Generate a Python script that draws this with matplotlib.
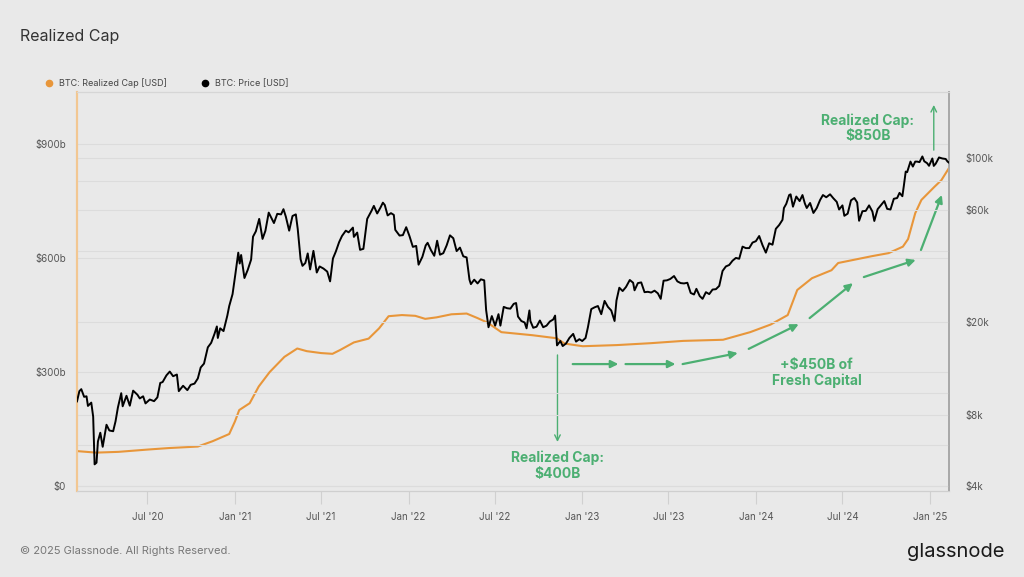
import pandas as pd
import matplotlib
matplotlib.use("Agg")
import matplotlib.pyplot as plt
import matplotlib.dates as mdates
from matplotlib.lines import Line2D

plt.rcParams['font.family'] = ['Inter', 'DejaVu Sans']

# realized cap, billions USD
rc_dates = ['2020-02-04', '2020-03-15', '2020-05-01', '2020-07-01', '2020-08-15', '2020-10-15',
            '2020-11-15', '2020-12-20', '2021-01-01', '2021-01-10', '2021-02-01', '2021-02-20',
            '2021-03-15', '2021-04-15', '2021-05-12', '2021-06-01', '2021-07-01', '2021-07-25',
            '2021-08-10', '2021-09-08', '2021-10-09', '2021-10-31', '2021-11-20', '2021-12-18',
            '2022-01-15', '2022-02-05', '2022-03-01', '2022-04-01', '2022-05-03', '2022-05-26',
            '2022-06-16', '2022-07-15', '2022-09-18', '2022-11-08', '2022-11-25', '2023-01-02',
            '2023-03-15', '2023-05-25', '2023-08-01', '2023-10-24', '2023-12-20', '2024-02-01',
            '2024-03-08', '2024-03-28', '2024-04-28', '2024-06-08', '2024-06-22', '2024-09-01',
            '2024-10-06', '2024-11-05', '2024-11-16', '2024-12-01', '2024-12-14', '2025-01-10',
            '2025-01-25', '2025-02-10']
rc_values = [92, 88, 90, 96, 100, 104,
             118, 137, 170, 200, 218, 262,
             300, 340, 362, 355, 350, 348,
             358, 378, 388, 415, 447, 450,
             448, 440, 444, 452, 454, 442,
             430, 405, 397, 389, 375, 368,
             371, 376, 382, 385, 405, 425,
             450, 516, 547, 568, 587, 605,
             613, 630, 650, 718, 753, 787,
             805, 837]

# BTC price, USD
price_dates = [
    '2020-02-04', '2020-02-09', '2020-02-13', '2020-02-19', '2020-02-24', '2020-02-27', '2020-03-05',
    '2020-03-09', '2020-03-12', '2020-03-16', '2020-03-19', '2020-03-24', '2020-03-29', '2020-04-06',
    '2020-04-12', '2020-04-20', '2020-04-25', '2020-04-30', '2020-05-07', '2020-05-10', '2020-05-18',
    '2020-05-25', '2020-06-01', '2020-06-10', '2020-06-15', '2020-06-22', '2020-06-27', '2020-07-06',
    '2020-07-15', '2020-07-22', '2020-07-28', '2020-08-02', '2020-08-10', '2020-08-17', '2020-08-24',
    '2020-09-01', '2020-09-05', '2020-09-14', '2020-09-23', '2020-09-30', '2020-10-08', '2020-10-15',
    '2020-10-21', '2020-10-28', '2020-11-05', '2020-11-12', '2020-11-19', '2020-11-24', '2020-11-26',
    '2020-12-01', '2020-12-08', '2020-12-16', '2020-12-20', '2020-12-27', '2021-01-02', '2021-01-08',
    '2021-01-11', '2021-01-14', '2021-01-21', '2021-01-28', '2021-02-04', '2021-02-08', '2021-02-14',
    '2021-02-21', '2021-02-28', '2021-03-06', '2021-03-13', '2021-03-24', '2021-03-31', '2021-04-08',
    '2021-04-13', '2021-04-18', '2021-04-25', '2021-05-02', '2021-05-09', '2021-05-13', '2021-05-19',
    '2021-05-23', '2021-05-29', '2021-06-03', '2021-06-08', '2021-06-15', '2021-06-22', '2021-06-28',
    '2021-07-06', '2021-07-14', '2021-07-20', '2021-07-26', '2021-08-01', '2021-08-08', '2021-08-14',
    '2021-08-22', '2021-08-28', '2021-09-06', '2021-09-08', '2021-09-15', '2021-09-21', '2021-09-28',
    '2021-10-06', '2021-10-15', '2021-10-20', '2021-10-27', '2021-11-03', '2021-11-08', '2021-11-12',
    '2021-11-18', '2021-11-25', '2021-12-01', '2021-12-04', '2021-12-13', '2021-12-20', '2021-12-27',
    '2022-01-03', '2022-01-10', '2022-01-17', '2022-01-22', '2022-01-30', '2022-02-06', '2022-02-10',
    '2022-02-17', '2022-02-24', '2022-03-02', '2022-03-08', '2022-03-15', '2022-03-22', '2022-03-29',
    '2022-04-05', '2022-04-12', '2022-04-19', '2022-04-26', '2022-05-03', '2022-05-09', '2022-05-12',
    '2022-05-19', '2022-05-26', '2022-06-02', '2022-06-09', '2022-06-13', '2022-06-18', '2022-06-25',
    '2022-07-02', '2022-07-09', '2022-07-13', '2022-07-20', '2022-07-27', '2022-08-03', '2022-08-10',
    '2022-08-15', '2022-08-19', '2022-08-26', '2022-09-02', '2022-09-06', '2022-09-12', '2022-09-14',
    '2022-09-20', '2022-09-27', '2022-10-04', '2022-10-11', '2022-10-18', '2022-10-25', '2022-11-01',
    '2022-11-05', '2022-11-09', '2022-11-16', '2022-11-21', '2022-11-28', '2022-12-05', '2022-12-13',
    '2022-12-19', '2022-12-26', '2023-01-01', '2023-01-08', '2023-01-13', '2023-01-20', '2023-01-27',
    '2023-02-03', '2023-02-10', '2023-02-17', '2023-02-24', '2023-03-03', '2023-03-10', '2023-03-14',
    '2023-03-20', '2023-03-27', '2023-04-03', '2023-04-11', '2023-04-18', '2023-04-21', '2023-04-28',
    '2023-05-05', '2023-05-12', '2023-05-19', '2023-05-26', '2023-06-02', '2023-06-09', '2023-06-15',
    '2023-06-21', '2023-06-28', '2023-07-05', '2023-07-13', '2023-07-20', '2023-07-27', '2023-08-03',
    '2023-08-10', '2023-08-17', '2023-08-24', '2023-08-29', '2023-09-05', '2023-09-11', '2023-09-18',
    '2023-09-25', '2023-10-02', '2023-10-09', '2023-10-16', '2023-10-23', '2023-10-30', '2023-11-06',
    '2023-11-13', '2023-11-20', '2023-11-27', '2023-12-04', '2023-12-11', '2023-12-18', '2023-12-25',
    '2024-01-01', '2024-01-08', '2024-01-15', '2024-01-22', '2024-01-29', '2024-02-05', '2024-02-12',
    '2024-02-19', '2024-02-26', '2024-02-29', '2024-03-05', '2024-03-11', '2024-03-14', '2024-03-19',
    '2024-03-26', '2024-04-02', '2024-04-08', '2024-04-13', '2024-04-17', '2024-04-24', '2024-05-01',
    '2024-05-08', '2024-05-15', '2024-05-21', '2024-05-28', '2024-06-05', '2024-06-12', '2024-06-19',
    '2024-06-24', '2024-07-01', '2024-07-05', '2024-07-12', '2024-07-19', '2024-07-26', '2024-08-01',
    '2024-08-05', '2024-08-12', '2024-08-19', '2024-08-26', '2024-09-02', '2024-09-06', '2024-09-13',
    '2024-09-20', '2024-09-27', '2024-10-03', '2024-10-10', '2024-10-17', '2024-10-24', '2024-10-29',
    '2024-11-04', '2024-11-07', '2024-11-11', '2024-11-14', '2024-11-21', '2024-11-26', '2024-12-01',
    '2024-12-05', '2024-12-10', '2024-12-16', '2024-12-20', '2024-12-26', '2024-12-30', '2025-01-06',
    '2025-01-09', '2025-01-13', '2025-01-20', '2025-01-27', '2025-02-03', '2025-02-07', '2025-02-10']
price_values = [
    9180, 10150, 10350, 9600, 9650, 8780, 9070,
    7900, 4950, 5030, 6200, 6750, 5880, 7300,
    6900, 6850, 7550, 8650, 9950, 8750, 9700,
    8800, 10200, 9800, 9450, 9650, 9000, 9350,
    9200, 9550, 11000, 11100, 11850, 12300, 11750,
    11950, 10150, 10700, 10250, 10800, 10930, 11500,
    12800, 13300, 15600, 16300, 17800, 19150, 17100,
    18800, 18300, 21300, 23400, 26300, 32100, 39500,
    35500, 38600, 30800, 33400, 36900, 46200, 48700,
    55000, 45200, 48900, 58500, 52800, 57800, 57500,
    60500, 56200, 49000, 56600, 57500, 49800, 37000,
    34700, 35700, 39200, 33500, 40200, 32500, 34500,
    33800, 32800, 29800, 37300, 39900, 43800, 46500,
    49000, 48200, 50500, 46100, 48100, 40600, 41000,
    55000, 59500, 62500, 58000, 61500, 64500, 63000,
    56900, 58200, 57200, 49400, 46700, 46900, 50700,
    46400, 41800, 42200, 35100, 37900, 42400, 43500,
    40500, 38300, 44400, 38700, 39300, 42400, 46800,
    45500, 40100, 41500, 38100, 37700, 30300, 29000,
    30300, 29200, 30400, 30100, 22500, 19000, 21200,
    19300, 21600, 19300, 23200, 22900, 22800, 23900,
    24100, 21100, 20200, 19900, 18800, 22400, 20200,
    18900, 19100, 20300, 19000, 19300, 20100, 20500,
    21300, 15900, 16600, 15800, 16200, 17100, 17800,
    16500, 16900, 16600, 17100, 19000, 22700, 23100,
    23400, 21600, 24600, 23200, 22400, 20200, 24700,
    28000, 27100, 28200, 30200, 29400, 27300, 29300,
    29500, 26800, 26900, 26700, 27200, 26500, 25100,
    30000, 30100, 30500, 31400, 29800, 29300, 29200,
    29400, 26600, 26200, 27700, 25800, 25100, 26800,
    26300, 27500, 27600, 28500, 33000, 34500, 35000,
    36500, 37500, 37200, 41900, 41300, 41300, 43600,
    44200, 46500, 42500, 39500, 43300, 42700, 49900,
    51800, 54500, 61200, 63800, 69500, 70000, 62000,
    68500, 65500, 69500, 64000, 61200, 64300, 58300,
    61200, 66200, 69500, 68000, 70000, 67300, 65000,
    60300, 62800, 56700, 57900, 66000, 67500, 64600,
    54000, 59300, 59500, 62800, 59100, 53900, 60500,
    63000, 65500, 60700, 60300, 67000, 67500, 71000,
    68700, 75900, 87500, 87000, 96500, 91900, 96500,
    96500, 96000, 101500, 96800, 95000, 92600, 99500,
    92500, 94500, 100500, 99500, 99000, 96500, 95500]

left_ticks = [0, 300, 600, 900]
left_labels = ['$0', '$300b', '$600b', '$900b']
right_grid = [4000, 6000, 8000, 10000, 20000, 40000, 60000, 80000, 100000]
right_ticks = [4000, 8000, 20000, 60000, 100000]
right_labels = ['$4k', '$8k', '$20k', '$60k', '$100k']
x_ticks = ['2020-07-01', '2021-01-01', '2021-07-01', '2022-01-01', '2022-07-01',
           '2023-01-01', '2023-07-01', '2024-01-01', '2024-07-01', '2025-01-01']

bg = '#e9e9e9'
orange = '#e8963a'
green = '#4caf72'
grid_c = '#dcdcdc'
tick_c = '#555555'

fig = plt.figure(figsize=(10.24, 5.77), dpi=100, facecolor=bg)
ax = fig.add_axes([77 / 1024, 86 / 577, 872 / 1024, 399 / 577])
ax.set_facecolor(bg)
ax2 = ax.twinx()

rc_x = pd.to_datetime(rc_dates)
px_x = pd.to_datetime(price_dates)

for v in left_ticks:
    ax.axhline(v, color=grid_c, lw=0.8, zorder=0)
ax.plot(rc_x, rc_values, color=orange, lw=1.5, zorder=3)
ax.set_ylim(-13, 1037)
ax.set_yticks(left_ticks)
ax.set_yticklabels(left_labels)

ax2.set_yscale('log')
for v in right_grid:
    ax2.axhline(v, color=grid_c, lw=0.8, zorder=0)
ax2.plot(px_x, price_values, color='black', lw=1.4, zorder=4)
ax2.set_ylim(3811, 191000)
ax2.set_yticks(right_ticks)
ax2.set_yticklabels(right_labels)
ax2.yaxis.set_minor_locator(plt.NullLocator())

ax.set_xlim(pd.Timestamp('2020-02-04'), pd.Timestamp('2025-02-10'))
ax.set_xticks(pd.to_datetime(x_ticks))
ax.xaxis.set_major_formatter(mdates.DateFormatter("%b '%y"))

ax.tick_params(axis='y', length=0, pad=8, labelsize=7, labelcolor=tick_c)
ax2.tick_params(axis='y', length=0, pad=12, labelsize=7, labelcolor=tick_c)
ax.tick_params(axis='x', length=9, width=0.8, color='#d0d0d0', pad=6, labelsize=7, labelcolor=tick_c)

for a in (ax, ax2):
    a.spines['top'].set_color('#d6d6d6')
    a.spines['bottom'].set_color('#cfcfcf')
    a.spines['left'].set_color('#f2c792')
    a.spines['left'].set_linewidth(1.5)
    a.spines['right'].set_color('#a8a8a8')
    a.spines['right'].set_linewidth(1.2)

# annotations (left-axis data coordinates)
fat = dict(arrowstyle='-|>', color=green, lw=1.6, mutation_scale=11, shrinkA=0, shrinkB=0)
thin = dict(arrowstyle='->', color=green, lw=1.0, mutation_scale=10, shrinkA=0, shrinkB=0)
arrow_starts = [('2022-12-12', 321), ('2023-04-02', 321), ('2023-07-31', 321), ('2023-12-17', 361),
                ('2024-04-23', 442), ('2024-08-15', 550), ('2024-12-13', 621)]
arrow_ends = [('2023-03-18', 321), ('2023-07-16', 321), ('2023-11-24', 350), ('2024-03-31', 426),
              ('2024-07-23', 534), ('2024-12-02', 595), ('2025-01-26', 766)]
for (d0, v0), (d1, v1) in zip(arrow_starts, arrow_ends):
    ax.annotate('', xy=(pd.Timestamp(d1), v1), xytext=(pd.Timestamp(d0), v0), arrowprops=fat, zorder=5)

ax.annotate('', xy=(pd.Timestamp('2022-11-10'), 116), xytext=(pd.Timestamp('2022-11-10'), 345),
            arrowprops=thin, zorder=5)
ax.annotate('', xy=(pd.Timestamp('2025-01-09'), 1003), xytext=(pd.Timestamp('2025-01-09'), 884),
            arrowprops=thin, zorder=5)

ann = dict(color=green, fontsize=10, fontweight='bold', ha='center', va='center', linespacing=1.15, zorder=6)
ax.text(pd.Timestamp('2022-11-10'), 53, 'Realized Cap:\n$400B', **ann)
ax.text(pd.Timestamp('2024-08-23'), 942, 'Realized Cap:\n$850B', **ann)
ax.text(pd.Timestamp('2024-05-08'), 297, '+$450B of\nFresh Capital', **ann)

# title, legend, footer
fig.text(20 / 1024, 1 - 36 / 577, 'Realized Cap', fontsize=11.5, color='#333333', va='center')
handles = [Line2D([], [], marker='o', ls='', color=orange, markersize=4.5),
           Line2D([], [], marker='o', ls='', color='black', markersize=4.5)]
fig.legend(handles, ['BTC: Realized Cap [USD]', 'BTC: Price [USD]'], loc='center left',
           bbox_to_anchor=(40 / 1024, 1 - 83 / 577), ncol=2, frameon=False, fontsize=6.5,
           handletextpad=0.1, columnspacing=3.2, labelcolor='#444444', borderaxespad=0, borderpad=0)
fig.text(20 / 1024, 1 - 551 / 577, '\u00a9 2025 Glassnode. All Rights Reserved.', fontsize=8,
         color='#777777', va='center')
fig.text(1005 / 1024, 1 - 552 / 577, 'glassnode', fontsize=14.5, color='#1a1a1a', ha='right', va='center')

fig.savefig('out.png', dpi=100, facecolor=bg)
